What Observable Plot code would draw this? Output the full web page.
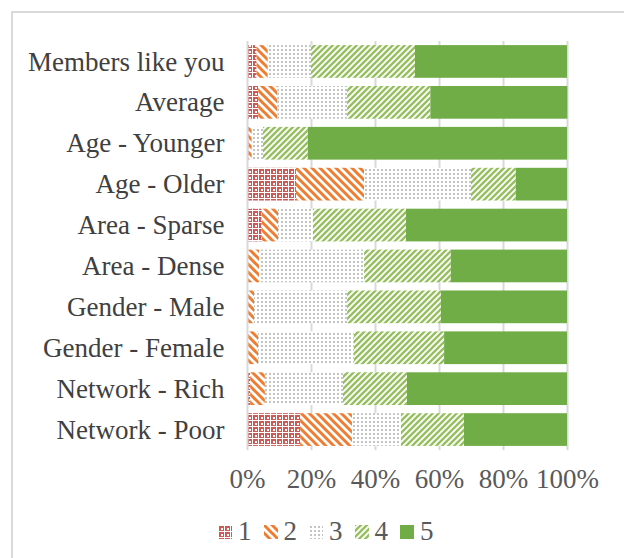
<!DOCTYPE html>
<html>
<head>
<meta charset="utf-8">
<script src="https://cdn.jsdelivr.net/npm/d3@7"></script>
<script src="https://cdn.jsdelivr.net/npm/@observablehq/plot@0.6"></script>
<style>
  html, body { margin: 0; padding: 0; background: #fff; overflow: hidden; width: 624px; height: 558px; }
  #frame { position: absolute; left: 11px; top: 11px; width: 1000px; height: 1000px;
           border-top: 2px solid #d9d9d9; border-left: 2px solid #d9d9d9; }
  #chart { position: absolute; left: 0; top: 0; }
  #legend { position: absolute; left: 218px; top: 516px; display: flex; align-items: center;
            font-family: "Liberation Serif", serif; font-size: 27px; color: #595959; }
  .item { display: flex; align-items: center; margin-right: 12px; }
  .item svg { margin-right: 6px; }
</style>
</head>
<body>
<div id="frame"></div>
<div id="chart"></div>
<div id="legend"></div>
<script>
const categories = ["Members like you", "Average", "Age - Younger", "Age - Older", "Area - Sparse",
  "Area - Dense", "Gender - Male", "Gender - Female", "Network - Rich", "Network - Poor"];
const seriesNames = ["1", "2", "3", "4", "5"];
const s1 = [3.0, 3.5, 0.5, 15.3, 4.6, 0.0, 0.0, 0.0, 1.0, 16.6];
const s2 = [3.5, 6.0, 1.0, 21.3, 5.1, 3.8, 2.2, 3.5, 4.6, 16.2];
const s3 = [13.5, 21.8, 3.5, 33.4, 10.9, 32.8, 29.1, 29.9, 24.4, 15.3];
const s4 = [32.5, 26.0, 14.0, 14.0, 29.1, 27.1, 29.3, 28.2, 20.0, 19.7];
const s5 = [47.5, 42.8, 81.0, 16.0, 50.3, 36.3, 39.4, 38.4, 50.0, 32.2];
const xTicks = [0, 20, 40, 60, 80, 100];

const seriesValues = [s1, s2, s3, s4, s5];
const data = [];
seriesValues.forEach((vals, si) => {
  vals.forEach((v, ci) => data.push({category: categories[ci], series: seriesNames[si], value: v}));
});

const fills = ["url(#pat1)", "url(#pat2)", "url(#pat3)", "url(#pat4)", "#70ad47"];

const plot = Plot.plot({
  width: 624,
  height: 500,
  marginLeft: 247,
  marginRight: 57,
  marginTop: 41,
  marginBottom: 50,
  style: {fontFamily: "Liberation Serif, serif", fontSize: "27px", background: "transparent"},
  x: {domain: [0, 100], ticks: xTicks, tickFormat: d => d + "%", label: null},
  y: {domain: categories, paddingInner: 0.2, paddingOuter: 0.1, round: false, label: null},
  color: {domain: seriesNames, range: fills},
  marks: [
    Plot.gridX(xTicks.filter(d => d > 0), {stroke: "#d9d9d9", strokeOpacity: 1, strokeWidth: 2}),
    Plot.barX(data, Plot.stackX({x: "value", y: "category", fill: "series"})),
    Plot.ruleX([0], {stroke: "#d9d9d9", strokeWidth: 2}),
    Plot.axisX({ticks: xTicks, tickFormat: d => d + "%", tickSize: 0, tickPadding: 18, fill: "#595959", label: null}),
    Plot.axisY({tickSize: 0, tickPadding: 23, fill: "#404040", label: null})
  ]
});

const defs = `
<defs>
  <pattern id="pat1" width="6" height="6" patternUnits="userSpaceOnUse">
    <rect width="6" height="6" fill="#cd5a57"/>
    <rect x="0" y="0" width="1" height="6" fill="#fff"/>
    <rect x="0" y="0" width="6" height="1" fill="#fff"/>
    <rect x="3" y="3" width="2" height="2" fill="#fff"/>
  </pattern>
  <pattern id="pat2" width="8" height="8" patternUnits="userSpaceOnUse">
    <rect width="8" height="8" fill="#fff"/>
    <path d="M-2,-2 L10,10 M-2,6 L2,10 M6,-2 L10,2" stroke="#ed7d31" stroke-width="3"/>
  </pattern>
  <pattern id="pat3" width="4" height="4" patternUnits="userSpaceOnUse">
    <rect width="4" height="4" fill="#fff"/>
    <rect x="1" y="1" width="2" height="2" fill="#c4c4c4"/>
  </pattern>
  <pattern id="pat4" width="6" height="6" patternUnits="userSpaceOnUse">
    <rect width="6" height="6" fill="#fff"/>
    <path d="M-1,7 L7,-1 M-1,1 L1,-1 M5,7 L7,5" stroke="#96c05f" stroke-width="2.4"/>
  </pattern>
</defs>`;
plot.insertAdjacentHTML("afterbegin", defs);
document.getElementById("chart").appendChild(plot);

const legend = document.getElementById("legend");
seriesNames.forEach((name, i) => {
  const item = document.createElement("div");
  item.className = "item";
  item.innerHTML = `<svg width="14" height="14"><rect width="14" height="14" fill="${fills[i]}"/></svg><span>${name}</span>`;
  legend.appendChild(item);
});
</script>
</body>
</html>
